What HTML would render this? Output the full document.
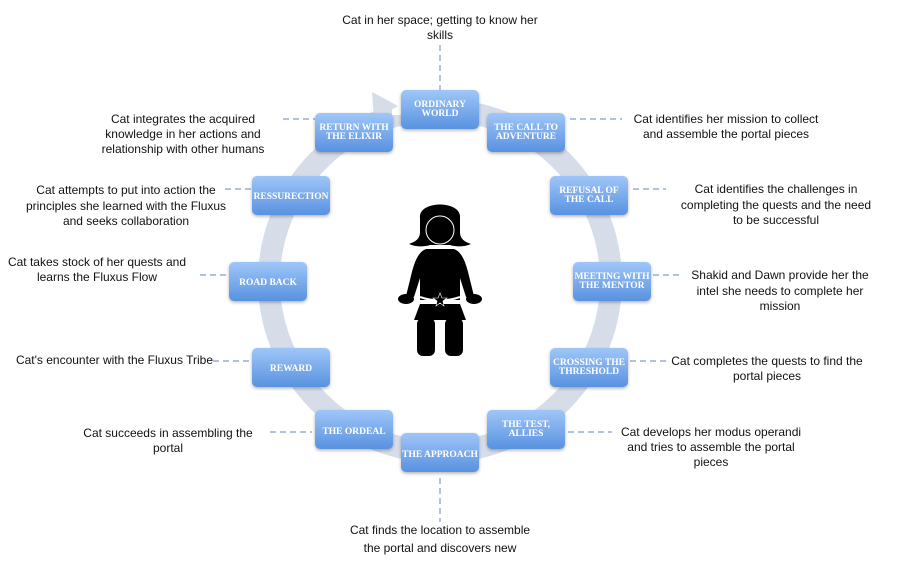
<!DOCTYPE html>
<html><head><meta charset="utf-8"><style>
body{margin:0;background:#fff;width:898px;height:575px;overflow:hidden}
svg{display:block}
.t{font-family:"Liberation Sans",sans-serif;font-size:12px;fill:#111}
.b{font-family:"Liberation Serif",serif;font-size:9.5px;font-weight:bold;fill:#fff;text-anchor:middle}
.d{stroke:#7f9ec9;stroke-width:1.2;stroke-dasharray:6,4;fill:none}
</style></head><body>
<svg width="898" height="575" viewBox="0 0 898 575">
<defs>
<linearGradient id="g" x1="0" y1="0" x2="0" y2="1"><stop offset="0" stop-color="#9fc6f8"/><stop offset="1" stop-color="#5992e0"/></linearGradient>
<filter id="s" x="-20%" y="-20%" width="140%" height="150%"><feDropShadow dx="0" dy="1.5" stdDeviation="1.5" flood-color="#000" flood-opacity="0.3"/></filter>
</defs>
<circle cx="440" cy="281" r="171" fill="none" stroke="#d6dde9" stroke-width="22"/>
<rect x="392" y="85" width="22" height="30" fill="#fff"/>
<polygon points="372,92 374,120 398,106" fill="#d6dde9"/>
<path class="d" d="M440 45V90 M440 478V522 M570 119H622 M633 189H666 M653 275H680 M630 361H666 M568 432H612 M270 432H312 M213 361H250 M200 275H228 M225 189H252 M283 119H315"/>
<g filter="url(#s)" fill="url(#g)">
<rect x="401" y="90" width="78" height="39" rx="5"/>
<rect x="487" y="113" width="78" height="39" rx="5"/>
<rect x="550" y="176" width="78" height="39" rx="5"/>
<rect x="573" y="262" width="78" height="39" rx="5"/>
<rect x="550" y="348" width="78" height="39" rx="5"/>
<rect x="487" y="410" width="78" height="39" rx="5"/>
<rect x="401" y="433" width="78" height="39" rx="5"/>
<rect x="315" y="410" width="78" height="39" rx="5"/>
<rect x="252" y="348" width="78" height="39" rx="5"/>
<rect x="229" y="262" width="78" height="39" rx="5"/>
<rect x="252" y="176" width="78" height="39" rx="5"/>
<rect x="315" y="113" width="78" height="39" rx="5"/>
</g>
<text class="b" x="440" y="107">ORDINARY</text><text class="b" x="440" y="116">WORLD</text>
<text class="b" x="526" y="130">THE CALL TO</text><text class="b" x="526" y="139">ADVENTURE</text>
<text class="b" x="589" y="193">REFUSAL OF</text><text class="b" x="589" y="202">THE CALL</text>
<text class="b" x="612" y="279">MEETING WITH</text><text class="b" x="612" y="288">THE MENTOR</text>
<text class="b" x="589" y="365">CROSSING THE</text><text class="b" x="589" y="374">THRESHOLD</text>
<text class="b" x="526" y="427">THE TEST,</text><text class="b" x="526" y="436">ALLIES</text>
<text class="b" x="440" y="457">THE APPROACH</text>
<text class="b" x="354" y="434">THE ORDEAL</text>
<text class="b" x="291" y="371">REWARD</text>
<text class="b" x="268" y="285">ROAD BACK</text>
<text class="b" x="291" y="199">RESSURECTION</text>
<text class="b" x="354" y="130">RETURN WITH</text><text class="b" x="354" y="139">THE ELIXIR</text>
<g fill="#000">
<path d="M420 218 C418 200 462 200 460 218 L460 232 C460 240 466 242 471 244 C464 247 456 247 450 245 L430 245 C424 247 416 247 409 244 C414 242 420 240 420 232 Z"/>
<circle cx="440" cy="230" r="14" fill="#000" stroke="#fff" stroke-width="1"/>
<path d="M426 249 L454 249 C462 252 466 262 470 280 L474 296 L466 297 L460 278 L460 300 L420 300 L420 278 L414 297 L406 296 L410 280 C414 262 418 252 426 249 Z"/>
<path d="M420 304 L460 304 L466 320 L414 320 Z"/>
<rect x="417" y="318" width="18" height="38" rx="6"/>
<rect x="445" y="318" width="18" height="38" rx="6"/>
<ellipse cx="406" cy="299" rx="8" ry="5"/><ellipse cx="474" cy="299" rx="8" ry="5"/>
</g>
<path d="M420 297 Q440 304 460 297" stroke="#fff" stroke-width="2" fill="none"/>
<polygon points="440,293 442,298 447,298 443,301 444,306 440,303 436,306 437,301 433,298 438,298" fill="#000" stroke="#fff" stroke-width="0.6"/>
<g class="t">
<text x="440" y="24" text-anchor="middle">Cat in her space; getting to know her</text>
<text x="440" y="39" text-anchor="middle">skills</text>
<text x="726" y="123" text-anchor="middle">Cat identifies her mission to collect</text>
<text x="726" y="138" text-anchor="middle">and assemble the portal pieces</text>
<text x="776" y="193" text-anchor="middle">Cat identifies the challenges in</text>
<text x="776" y="209" text-anchor="middle">completing the quests and the need</text>
<text x="776" y="224" text-anchor="middle">to be successful</text>
<text x="780" y="279" text-anchor="middle">Shakid and Dawn provide her the</text>
<text x="780" y="295" text-anchor="middle">intel she needs to complete her</text>
<text x="780" y="310" text-anchor="middle">mission</text>
<text x="767" y="365" text-anchor="middle">Cat completes the quests to find the</text>
<text x="767" y="380" text-anchor="middle">portal pieces</text>
<text x="711" y="436" text-anchor="middle">Cat develops her modus operandi</text>
<text x="711" y="451" text-anchor="middle">and tries to assemble the portal</text>
<text x="711" y="466" text-anchor="middle">pieces</text>
<text x="440" y="534" text-anchor="middle">Cat finds the location to assemble</text>
<text x="440" y="552" text-anchor="middle">the portal and discovers new</text>
<text x="168" y="437" text-anchor="middle">Cat succeeds in assembling the</text>
<text x="168" y="452" text-anchor="middle">portal</text>
<text x="213" y="364" text-anchor="end">Cat's encounter with the Fluxus Tribe</text>
<text x="97" y="266" text-anchor="middle">Cat takes stock of her quests and</text>
<text x="97" y="281" text-anchor="middle">learns the Fluxus Flow</text>
<text x="126" y="194" text-anchor="middle">Cat attempts to put into action the</text>
<text x="126" y="210" text-anchor="middle">principles she learned with the Fluxus</text>
<text x="126" y="225" text-anchor="middle">and seeks collaboration</text>
<text x="183" y="123" text-anchor="middle">Cat integrates the acquired</text>
<text x="183" y="138" text-anchor="middle">knowledge in her actions and</text>
<text x="183" y="153" text-anchor="middle">relationship with other humans</text>
</g>
</svg>
</body></html>
